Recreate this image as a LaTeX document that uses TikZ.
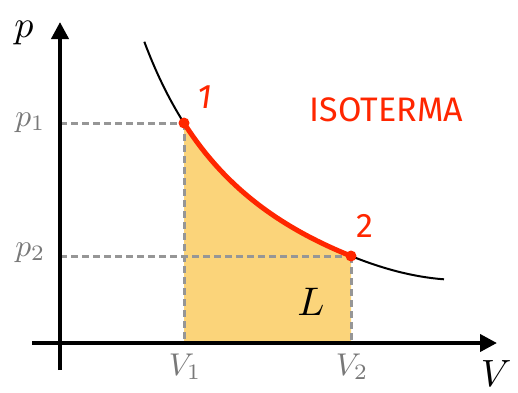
\RequirePackage{fix-cm}
\documentclass[tikz,border=0pt]{standalone}
\usepackage{fontspec}
\newfontfamily\redfont{Fira Sans}
\usetikzlibrary{arrows.meta}
\definecolor{isored}{RGB}{255,38,0}
\definecolor{areafill}{RGB}{251,212,122}
\definecolor{guidegray}{RGB}{150,150,150}
\definecolor{labelgray}{RGB}{120,120,120}
\begin{document}
\begin{tikzpicture}[x=1pt,y=-1pt,
  axisline/.style={line width=4pt,-{Triangle[length=17pt,width=17pt]}},
  guide/.style={draw=guidegray,line width=3pt,dash pattern=on 7pt off 4pt},
  isocurve/.style={line width=2pt},
  hotcurve/.style={draw=isored,line width=5pt},
  mathlab/.style={inner sep=0pt,scale=3.15,text=labelgray},
  biglab/.style={inner sep=0pt,scale=3.8},
  redlab/.style={inner sep=0pt,text=isored,font=\redfont\fontsize{34}{34}\selectfont},
]
\useasboundingbox (0,0) rectangle (518,392);
\coordinate (O) at (60,343);
\coordinate (P1) at (184,123);
\coordinate (P2) at (351,256);
\coordinate (YB) at (60,370);
\coordinate (YT) at (60,22);
\coordinate (XL) at (32,343);
\coordinate (XR) at (497,343);
\coordinate (CE) at (444,279.3);

\fill[areafill] (P1 |- O) -- plot[domain=184:351,samples=60] ({\x},{392.4-461.24/((\x-12.77)/100)}) -- (P2 |- O) -- cycle;

\draw[guide] (O |- P1) -- (P1);
\draw[guide] (O |- P2) -- (P2);
\draw[guide] (P1) -- (P1 |- O);
\draw[guide] (P2) -- (P2 |- O);

\draw[axisline] (YB) -- (YT);
\draw[axisline] (XL) -- (XR);

\draw[isocurve] plot[domain=144.3:351,samples=80] ({\x},{392.4-461.24/((\x-12.77)/100)});
\draw[isocurve] (P2) .. controls (382,268.5) and (413,277) .. (CE);
\draw[hotcurve] plot[domain=184:351,samples=60] ({\x},{392.4-461.24/((\x-12.77)/100)});
\fill[isored] (P1) circle (5.5pt);
\fill[isored] (P2) circle (5.5pt);

\node[biglab,anchor=base] (plab) at (24,37) {$p$};
\node[biglab,anchor=base west] (vlab) at (480,386) {$V$};
\node[biglab,anchor=base,scale=1.05] (llab) at (311,315) {$L$};
\node[mathlab,anchor=base east] (p1lab) at (46,126) {$p_1$};
\node[mathlab,anchor=base east] (p2lab) at (46,256) {$p_2$};
\node[mathlab,anchor=base] (v1lab) at (185,375) {$V_1$};
\node[mathlab,anchor=base] (v2lab) at (352,375) {$V_2$};
\node[redlab] (n1) at (205,97) {\itshape 1};
\node[redlab] (n2) at (365,226) {2};
\node[redlab] (iso) at (386.5,110) {ISOTERMA};
\end{tikzpicture}
\end{document}
